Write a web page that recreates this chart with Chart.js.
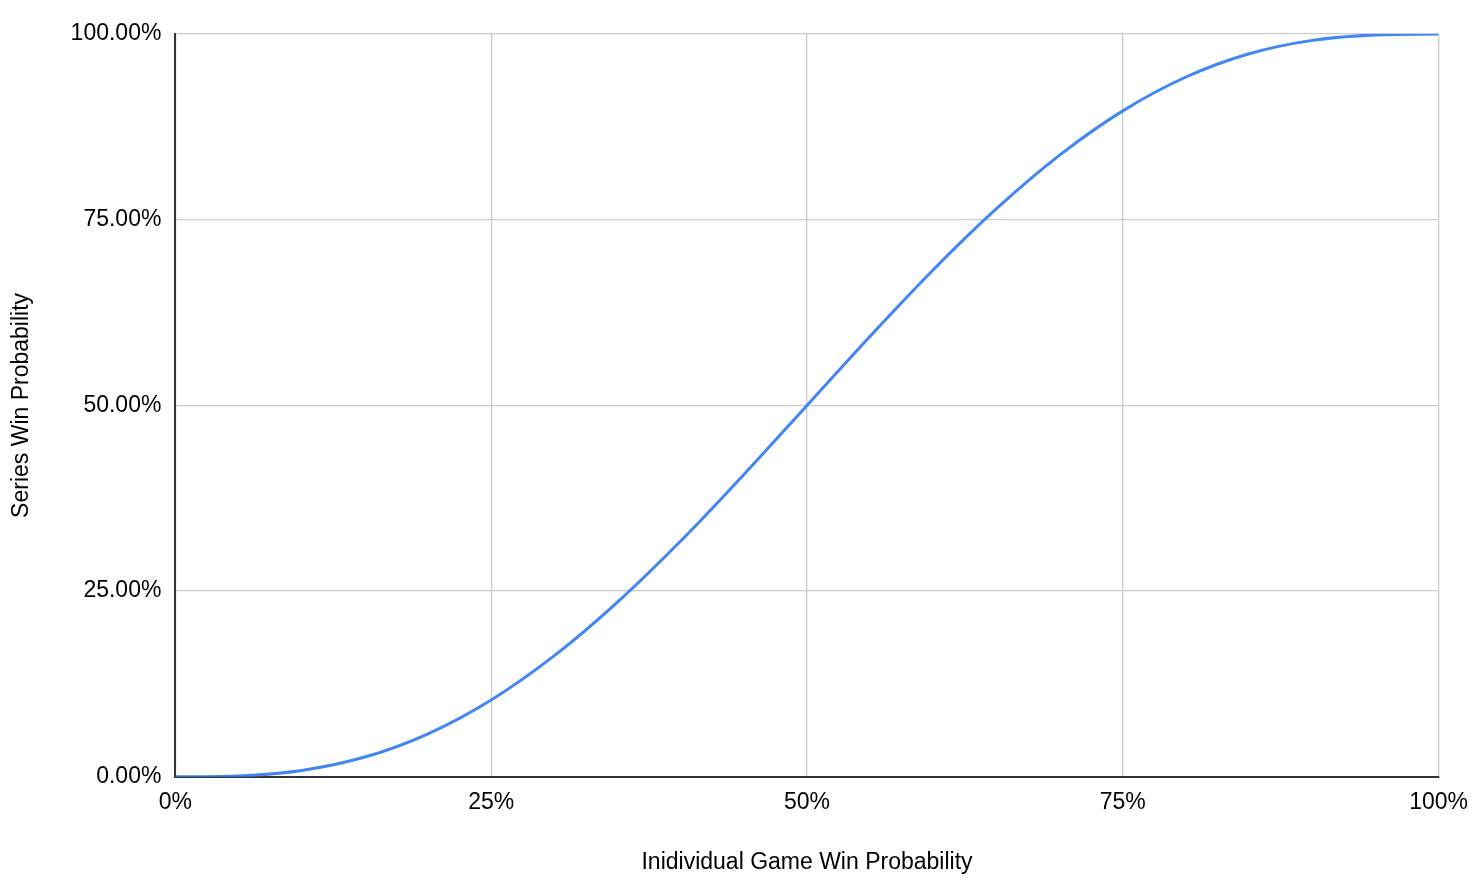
<!DOCTYPE html>
<html>
<head>
<meta charset="utf-8">
<script src="https://cdn.jsdelivr.net/npm/chart.js@4/dist/chart.umd.min.js"></script>
<style>
  html, body { margin: 0; padding: 0; background: #fff; }
  #wrap { width: 1480px; height: 884px; }
</style>
</head>
<body>
<div id="wrap"><canvas id="GraphSeries" width="1480" height="884"></canvas></div>
<script>
// game win probability (%) and series win probability (%)
const gameProb = [0, 5, 10, 15, 20, 25, 30, 35, 40, 45, 50, 55, 60, 65, 70, 75, 80, 85, 90, 95, 100];
const seriesProb = [0, 0.12, 0.86, 2.66, 5.79, 10.35, 16.31, 23.52, 31.74, 40.69, 50,
    59.31, 68.26, 76.48, 83.69, 89.65, 94.21, 97.34, 99.14, 99.88, 100];
const xTicks = [0, 25, 50, 75, 100];
const yTicks = [0, 25, 50, 75, 100];

const points = gameProb.map((g, i) => ({ x: g, y: seriesProb[i] }));

const tickFont = { family: "'Liberation Sans', Arial, sans-serif", size: 23 };
const titleFont = { family: "'Liberation Sans', Arial, sans-serif", size: 23 };

const config = {
    type: 'scatter',
    data: {
        datasets: [{
            label: 'Series Win Probability',
            data: points,
            showLine: true,
            borderColor: '#4285F4',
            backgroundColor: '#4285F4',
            borderWidth: 3,
            pointRadius: 0,
            cubicInterpolationMode: 'monotone'
        }]
    },
    options: {
        responsive: false,
        animation: false,
        layout: {
            padding: { left: 8, right: 36, top: 34, bottom: 8 }
        },
        scales: {
            x: {
                type: 'linear',
                min: 0,
                max: 100,
                afterBuildTicks: (axis) => { axis.ticks = xTicks.map(v => ({ value: v })); },
                ticks: {
                    color: '#000',
                    font: tickFont,
                    padding: 12,
                    callback: (v) => v + '%'
                },
                grid: { color: '#cccccc', lineWidth: 1.3, drawTicks: false },
                border: { color: '#333333', width: 2 },
                title: {
                    display: true,
                    text: 'Inidividual Game Win Probability',
                    color: '#000',
                    font: titleFont,
                    padding: { top: 20, bottom: 0 }
                }
            },
            y: {
                type: 'linear',
                min: 0,
                max: 100,
                afterBuildTicks: (axis) => { axis.ticks = yTicks.map(v => ({ value: v })); },
                ticks: {
                    color: '#000',
                    font: tickFont,
                    padding: 14,
                    callback: (v) => v.toFixed(2) + '%'
                },
                grid: { color: '#cccccc', lineWidth: 1.3, drawTicks: false },
                border: { color: '#333333', width: 2 },
                title: {
                    display: true,
                    text: 'Series Win Probability',
                    color: '#000',
                    font: titleFont,
                    padding: { top: 0, bottom: 21 }
                }
            }
        },
        plugins: {
            legend: { display: false },
            tooltip: { enabled: false }
        }
    }
};

const canvasElement = document.getElementById('GraphSeries');
const GraphSeries = new Chart(canvasElement, config);
</script>
</body>
</html>
